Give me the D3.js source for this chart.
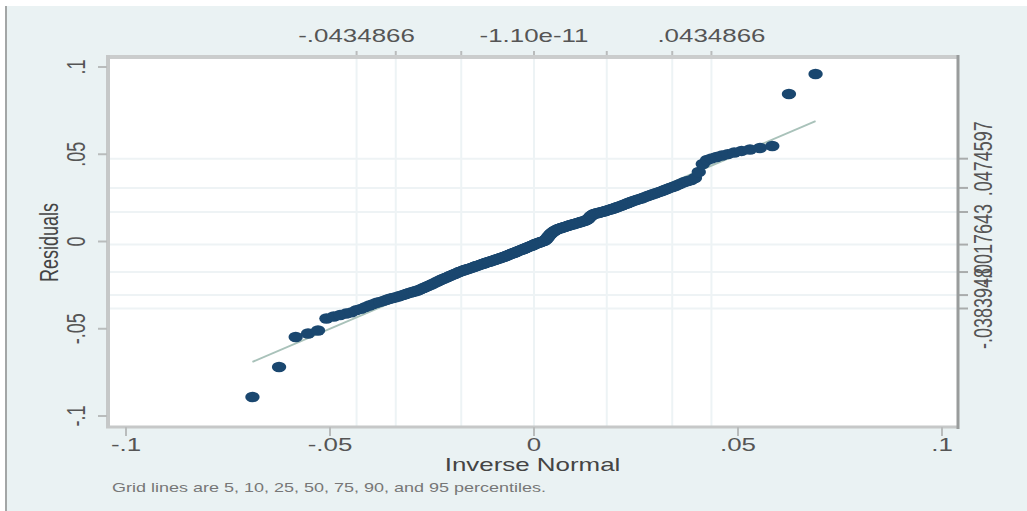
<!DOCTYPE html>
<html>
<head>
<meta charset="utf-8">
<script src="https://cdn.jsdelivr.net/npm/d3@7"></script>
<style>
  body { margin: 0; background: #fff; }
  text { font-family: "Liberation Sans", Arial, sans-serif; }
</style>
</head>
<body>
<div id="chart"></div>
<script>
// sorted residuals (rank 1..220)
var residuals = [
  -0.0891, -0.0719, -0.0547, -0.0527, -0.0510, -0.0441, -0.0430, -0.0421, -0.0413, -0.0406,
  -0.0393, -0.0386, -0.0376, -0.0367, -0.0359, -0.0351, -0.0346, -0.0340, -0.0334, -0.0328,
  -0.0324, -0.0320, -0.0315, -0.0310, -0.0306, -0.0301, -0.0296, -0.0292, -0.0288, -0.0285,
  -0.0281, -0.0276, -0.0270, -0.0265, -0.0260, -0.0255, -0.0250, -0.0245, -0.0240, -0.0234,
  -0.0229, -0.0224, -0.0219, -0.0215, -0.0211, -0.0207, -0.0203, -0.0198, -0.0194, -0.0190,
  -0.0186, -0.0183, -0.0178, -0.0174, -0.0171, -0.0168, -0.0165, -0.0162, -0.0159, -0.0157,
  -0.0154, -0.0151, -0.0148, -0.0145, -0.0142, -0.0140, -0.0137, -0.0134, -0.0131, -0.0128,
  -0.0126, -0.0123, -0.0120, -0.0118, -0.0116, -0.0113, -0.0111, -0.0108, -0.0106, -0.0103,
  -0.0101, -0.0098, -0.0096, -0.0093, -0.0091, -0.0088, -0.0086, -0.0083, -0.0080, -0.0077,
  -0.0074, -0.0071, -0.0068, -0.0066, -0.0063, -0.0060, -0.0057, -0.0054, -0.0051, -0.0048,
  -0.0046, -0.0043, -0.0040, -0.0037, -0.0034, -0.0031, -0.0028, -0.0026, -0.0023, -0.0020,
  -0.0016, -0.0013, -0.0011, -0.0008, -0.0006, -0.0003, -0.0001, 0.0002, 0.0004, 0.0009,
  0.0017, 0.0026, 0.0035, 0.0043, 0.0049, 0.0055, 0.0060, 0.0064, 0.0068, 0.0072,
  0.0074, 0.0076, 0.0079, 0.0081, 0.0083, 0.0085, 0.0088, 0.0090, 0.0093, 0.0095,
  0.0097, 0.0099, 0.0101, 0.0104, 0.0106, 0.0108, 0.0110, 0.0113, 0.0115, 0.0117,
  0.0120, 0.0124, 0.0129, 0.0138, 0.0146, 0.0152, 0.0158, 0.0160, 0.0162, 0.0163,
  0.0166, 0.0168, 0.0170, 0.0173, 0.0175, 0.0178, 0.0181, 0.0183, 0.0186, 0.0189,
  0.0192, 0.0196, 0.0199, 0.0203, 0.0206, 0.0210, 0.0214, 0.0218, 0.0222, 0.0226,
  0.0230, 0.0234, 0.0237, 0.0241, 0.0244, 0.0248, 0.0253, 0.0257, 0.0262, 0.0266,
  0.0271, 0.0275, 0.0280, 0.0284, 0.0289, 0.0295, 0.0301, 0.0307, 0.0312, 0.0318,
  0.0326, 0.0333, 0.0341, 0.0347, 0.0352, 0.0364, 0.0398, 0.0444, 0.0467, 0.0476,
  0.0484, 0.0493, 0.0501, 0.0510, 0.0519, 0.0527, 0.0536, 0.0547, 0.0845, 0.0960
];

var xTicks = [-0.1, -0.05, 0, 0.05, 0.1];
var xTickLabels = ["-.1", "-.05", "0", ".05", ".1"];
var yTicks = [-0.1, -0.05, 0, 0.05, 0.1];
var yTickLabels = ["-.1", "-.05", "0", ".05", ".1"];

var percentiles = [5, 10, 25, 50, 75, 90, 95];
var topLabelValues = [-0.0434866, -1.10e-11, 0.0434866];
var topLabels = ["-.0434866", "-1.10e-11", ".0434866"];
var rightGridValues = [-0.0383948, -0.0307, -0.0175, -0.0017643, 0.0169, 0.0307, 0.0474597];
var rightLabelValues = [-0.0383948, -0.0017643, 0.0474597];
var rightLabels = ["-.0383948", "-.0017643", ".0474597"];

var xTitle = "Inverse Normal";
var yTitle = "Residuals";
var note = "Grid lines are 5, 10, 25, 50, 75, 90, and 95 percentiles.";

var W = 1027, H = 511;
var stretch = 1.44;
var pLeft = 107, pRight = 958, pTop = 58, pBottom = 427;

function invNorm(p) {
  var a = [-3.969683028665376e+01, 2.209460984245205e+02, -2.759285104469687e+02, 1.383577518672690e+02, -3.066479806614716e+01, 2.506628277459239e+00];
  var b = [-5.447609879822406e+01, 1.615858368580409e+02, -1.556989798598866e+02, 6.680131188771972e+01, -1.328068155288572e+01];
  var c = [-7.784894002430293e-03, -3.223964580411365e-01, -2.400758277161838e+00, -2.549732539343734e+00, 4.374664141464968e+00, 2.938163982698783e+00];
  var d = [7.784695709041462e-03, 3.224671290700398e-01, 2.445134137142996e+00, 3.754408661907416e+00];
  var q, r;
  if (p < 0.02425) {
    q = Math.sqrt(-2 * Math.log(p));
    return (((((c[0]*q+c[1])*q+c[2])*q+c[3])*q+c[4])*q+c[5]) / ((((d[0]*q+d[1])*q+d[2])*q+d[3])*q+1);
  }
  if (p > 1 - 0.02425) return -invNorm(1 - p);
  q = p - 0.5; r = q*q;
  return (((((a[0]*r+a[1])*r+a[2])*r+a[3])*r+a[4])*r+a[5])*q / (((((b[0]*r+b[1])*r+b[2])*r+b[3])*r+b[4])*r+1);
}

var normMean = topLabelValues[1];
var normSd = topLabelValues[2] / invNorm(0.95);
var n = residuals.length;
var points = residuals.map((v, i) => ({ q: normMean + normSd * invNorm((i + 1) / (n + 1)), r: v }));
var qGrid = percentiles.map(p => normMean + normSd * invNorm(p / 100));

var x = d3.scaleLinear().domain([-0.1, 0.1]).range([126, 942]);
var y = d3.scaleLinear().domain([-0.1, 0.1]).range([416, 67]);

var svg = d3.select("#chart").append("svg").attr("width", W).attr("height", H);

svg.append("rect").attr("x", 7).attr("y", 6).attr("width", W - 7).attr("height", H - 6).attr("fill", "#eaf2f3");
svg.append("rect").attr("x", 5).attr("y", 6).attr("width", 2).attr("height", H - 6).attr("fill", "#a3a6a6");

svg.append("rect").attr("x", pLeft).attr("y", pTop).attr("width", pRight - pLeft).attr("height", pBottom - pTop).attr("fill", "#fff");

// grid
svg.append("g").selectAll("line").data(qGrid).join("line")
  .attr("x1", d => x(d)).attr("x2", d => x(d))
  .attr("y1", pTop - 6).attr("y2", pBottom)
  .attr("stroke", "#edf3f5").attr("stroke-width", 2);
svg.append("g").selectAll("line").data(rightGridValues).join("line")
  .attr("x1", pLeft).attr("x2", pRight + 9)
  .attr("y1", d => y(d)).attr("y2", d => y(d))
  .attr("stroke", "#eef3f5").attr("stroke-width", 2);

// percentile ticks
svg.append("g").selectAll("line").data(qGrid).join("line")
  .attr("x1", d => x(d)).attr("x2", d => x(d))
  .attr("y1", pTop - 7).attr("y2", pTop)
  .attr("stroke", "#b9bcbc").attr("stroke-width", 2);
svg.append("g").selectAll("line").data(rightGridValues).join("line")
  .attr("x1", pRight).attr("x2", pRight + 10)
  .attr("y1", d => y(d)).attr("y2", d => y(d))
  .attr("stroke", "#a9acac").attr("stroke-width", 2);

// frame
svg.append("line").attr("x1", pLeft - 1).attr("x2", pRight).attr("y1", pTop - 1).attr("y2", pTop - 1).attr("stroke", "#cbcdcd").attr("stroke-width", 4);
svg.append("line").attr("x1", pLeft - 1).attr("x2", pRight).attr("y1", pBottom).attr("y2", pBottom).attr("stroke", "#c6c8c8").attr("stroke-width", 3);
svg.append("line").attr("x1", pLeft + 1).attr("x2", pLeft + 1).attr("y1", pTop - 3).attr("y2", pBottom + 1).attr("stroke", "#c6c8c8").attr("stroke-width", 4);
svg.append("line").attr("x1", pRight).attr("x2", pRight).attr("y1", pTop - 3).attr("y2", pBottom + 2).attr("stroke", "#999c9c").attr("stroke-width", 3);

// axis ticks
svg.append("g").selectAll("line").data(xTicks).join("line")
  .attr("x1", d => x(d)).attr("x2", d => x(d))
  .attr("y1", pBottom).attr("y2", pBottom + 9)
  .attr("stroke", "#b9bcbc").attr("stroke-width", 2);
svg.append("g").selectAll("line").data(yTicks).join("line")
  .attr("x1", pLeft - 9).attr("x2", pLeft)
  .attr("y1", d => y(d)).attr("y2", d => y(d))
  .attr("stroke", "#b9bcbc").attr("stroke-width", 2);

// reference line y = x, under the markers
var ext = d3.extent(points, d => d.q);
svg.append("line")
  .attr("x1", x(ext[0])).attr("y1", y(ext[0]))
  .attr("x2", x(ext[1])).attr("y2", y(ext[1]))
  .attr("stroke", "#a9c2ba").attr("stroke-width", 2);

// points
svg.append("g").selectAll("ellipse").data(points).join("ellipse")
  .attr("cx", d => x(d.q)).attr("cy", d => y(d.r))
  .attr("rx", 7.2).attr("ry", 5.2)
  .attr("fill", "#1a476f");

function htext(px, py, s, size, anchor, color) {
  return svg.append("text")
    .attr("transform", "translate(" + px + "," + py + ") scale(" + stretch + ",1)")
    .attr("text-anchor", anchor).attr("font-size", size).attr("fill", color).text(s);
}
function vtext(px, py, s, size, color) {
  return svg.append("text")
    .attr("transform", "translate(" + px + "," + py + ") scale(" + stretch + ",1) rotate(-90)")
    .attr("text-anchor", "middle").attr("font-size", size).attr("fill", color).text(s);
}

xTicks.forEach((v, i) => htext(x(v), 451, xTickLabels[i], 18, "middle", "#555"));
yTicks.forEach((v, i) => vtext(85, y(v), yTickLabels[i], 18, "#555"));
topLabelValues.forEach((v, i) => htext(x(v), 42, topLabels[i], 18, "middle", "#555"));
rightLabelValues.forEach((v, i) => vtext(992, y(v), rightLabels[i], 18, "#555"));

htext((pLeft + pRight) / 2, 471, xTitle, 18, "middle", "#444");
vtext(58, (pTop + pBottom) / 2, yTitle, 18, "#444");
htext(112, 492, note, 12.5, "start", "#777");
</script>
</body>
</html>
